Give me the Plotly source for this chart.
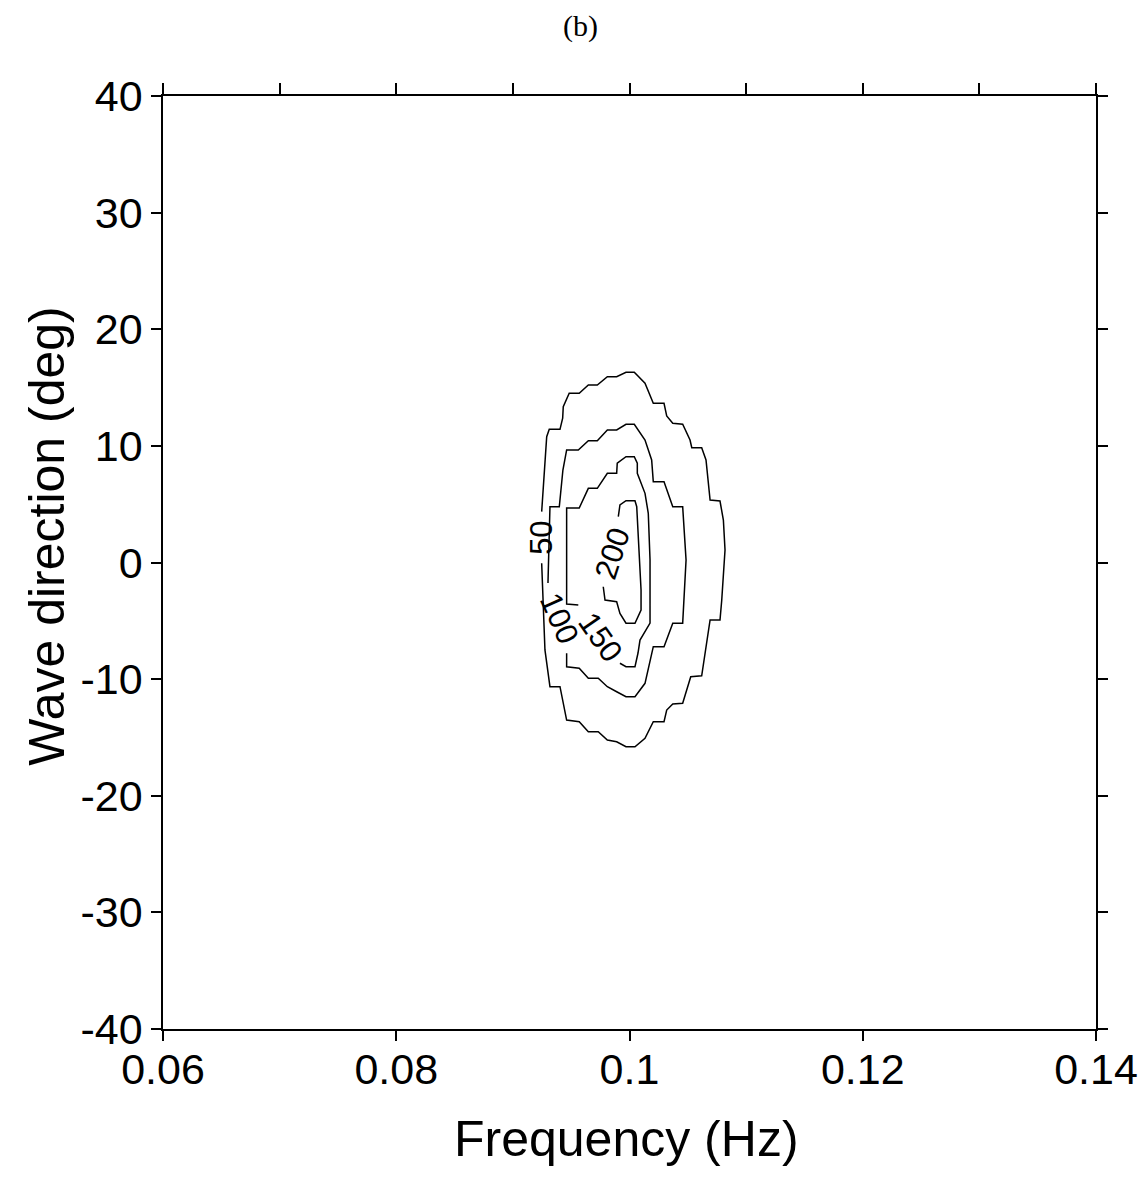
import plotly.graph_objects as go

# ---- data (frequency in Hz, direction in deg) ----
c50_freq = [0.09247, 0.09275, 0.09318, 0.09404, 0.09461, 0.09569, 0.09647, 0.09732, 0.09810, 0.09890,
            0.09970, 0.10047, 0.10133, 0.10204, 0.10296, 0.10319, 0.10371, 0.10456, 0.10525, 0.10619,
            0.10691, 0.10776, 0.10791, 0.10811, 0.10819, 0.10805, 0.10776, 0.10691, 0.10656, 0.10619,
            0.10534, 0.10519, 0.10456, 0.10371, 0.10319, 0.10296, 0.10204, 0.10133, 0.10041, 0.09970,
            0.09890, 0.09810, 0.09724, 0.09647, 0.09569, 0.09483, 0.09432, 0.09427, 0.09404, 0.09312,
            0.09290, 0.09247]
c50_dir = [-0.07, -7.50, -10.65, -10.65, -13.51, -13.65, -14.51, -14.51, -15.22, -15.37,
           -15.80, -15.80, -15.07, -13.65, -13.65, -12.65, -12.13, -12.07, -9.79, -9.71,
           -4.93, -4.93, -3.22, -0.64, 1.07, 3.64, 5.27, 5.36, 8.79, 9.84,
           9.84, 10.50, 11.85, 11.94, 12.56, 13.65, 13.65, 15.37, 16.31, 16.31,
           15.93, 15.93, 15.22, 15.22, 14.51, 14.51, 13.36, 12.37, 11.42, 11.42,
           10.79, 4.36]

c100_freq = [0.09301, 0.09318, 0.09398, 0.09429, 0.09461, 0.09561, 0.09647, 0.09724, 0.09810, 0.09890,
             0.09970, 0.10041, 0.10133, 0.10190, 0.10204, 0.10296, 0.10371, 0.10456, 0.10485, 0.10476,
             0.10456, 0.10371, 0.10296, 0.10204, 0.10133, 0.10047, 0.09970, 0.09890, 0.09810, 0.09732,
             0.09647, 0.09569, 0.09461, 0.09461]
c100_dir = [-1.76, 4.78, 4.78, 7.93, 9.65, 9.65, 10.44, 10.44, 11.36, 11.36,
            11.85, 11.85, 10.50, 8.79, 6.93, 6.93, 4.78, 4.78, 0.21, -1.78,
            -5.21, -5.21, -7.22, -7.22, -10.36, -11.51, -11.51, -11.08, -10.65, -9.93,
            -9.93, -9.07, -8.94, -7.79]

c150_freq = [0.09561, 0.09461, 0.09461, 0.09569, 0.09647, 0.09724, 0.09810, 0.09890, 0.09895, 0.09970,
             0.10041, 0.10067, 0.10067, 0.10133, 0.10161, 0.10176, 0.10176, 0.10090, 0.10073, 0.10047,
             0.09970, 0.09918]
c150_dir = [-3.64, -3.56, 4.67, 4.67, 6.36, 6.36, 7.65, 7.65, 8.51, 9.07,
            9.07, 8.51, 7.65, 5.93, 4.22, 0.21, -5.19, -6.65, -7.76, -8.94,
            -8.94, -8.64]

c200_freq = [0.09904, 0.09918, 0.09970, 0.10047, 0.10062, 0.10073, 0.10086, 0.10099, 0.10099, 0.10047,
             0.09970, 0.09918, 0.09890, 0.09790, 0.09775]
c200_dir = [3.93, 4.93, 5.30, 5.30, 4.78, 2.79, 0.21, -2.36, -4.07, -5.21,
            -5.21, -4.36, -3.36, -3.22, -2.08]

contour_levels = ["50", "100", "150", "200"]
label_freq = [0.09240, 0.09401, 0.09755, 0.09850]
label_dir = [2.10, -4.76, -6.39, 0.81]
label_angle = [-90, 66, 55, -72]

# bottom axis: labelled ticks every 0.02; top axis: unlabelled ticks every 0.01
x_tickvals = [0.06, 0.08, 0.10, 0.12, 0.14]
x_ticktext = ["0.06", "0.08", "0.1", "0.12", "0.14"]
x_top_tickvals = [0.06, 0.07, 0.08, 0.09, 0.10, 0.11, 0.12, 0.13, 0.14]
y_tickvals = [-40, -30, -20, -10, 0, 10, 20, 30, 40]
y_ticktext = ["-40", "-30", "-20", "-10", "0", "10", "20", "30", "40"]

FONT = "Liberation Sans, Arial, Helvetica, sans-serif"

fig = go.Figure()
traces = [(c50_freq, c50_dir, "x"), (c100_freq, c100_dir, "x"),
          (c150_freq, c150_dir, "x"), (c200_freq, c200_dir, "x2")]
for fx, dy, xa in traces:
    fig.add_trace(go.Scatter(x=fx, y=dy, mode="lines", xaxis=xa, yaxis="y",
                             line=dict(color="black", width=1.5),
                             hoverinfo="skip", showlegend=False))

annotations = []
for txt, fx, dy, ang in zip(contour_levels, label_freq, label_dir, label_angle):
    annotations.append(dict(x=fx, y=dy, xref="x", yref="y", text=txt, showarrow=False,
                            textangle=ang, font=dict(family=FONT, size=31, color="black")))

annotations.append(dict(x=0.4963, y=-0.118, xref="paper", yref="paper", text="Frequency (Hz)",
                        showarrow=False, xanchor="center", yanchor="middle",
                        font=dict(family=FONT, size=50, color="black")))
annotations.append(dict(x=-0.124, y=0.528, xref="paper", yref="paper", text="Wave direction (deg)",
                        showarrow=False, xanchor="center", yanchor="middle", textangle=-90,
                        font=dict(family=FONT, size=50, color="black")))
annotations.append(dict(x=(581 - 163.3) / 932.4, y=(1029 - 26) / 933, xref="paper", yref="paper",
                        text="(b)", showarrow=False, xanchor="center", yanchor="middle",
                        font=dict(family="Liberation Serif, Times New Roman, serif", size=30, color="black")))

common = dict(showline=True, linecolor="black", linewidth=1.5,
              ticks="outside", tickwidth=1.5, tickcolor="black",
              showgrid=False, zeroline=False)

fig.update_layout(
    width=1148, height=1178,
    margin=dict(l=163, r=52, t=96, b=149, autoexpand=False),
    plot_bgcolor="white", paper_bgcolor="white",
    annotations=annotations,
    xaxis=dict(range=[0.06, 0.14], tickmode="array", tickvals=x_tickvals, ticktext=x_ticktext,
               ticklen=10, mirror=False, ticklabelstandoff=-8,
               tickfont=dict(family=FONT, size=43, color="black"), **common),
    xaxis2=dict(range=[0.06, 0.14], matches="x", overlaying="x", side="top", anchor="y",
                tickmode="array", tickvals=x_top_tickvals, showticklabels=False,
                ticklen=11, **common),
    yaxis=dict(range=[-40, 40], tickmode="array", tickvals=y_tickvals, ticktext=y_ticktext,
               ticklen=10, mirror="ticks",
               tickfont=dict(family=FONT, size=43, color="black"), **common),
)

fig.write_html("out.html")
